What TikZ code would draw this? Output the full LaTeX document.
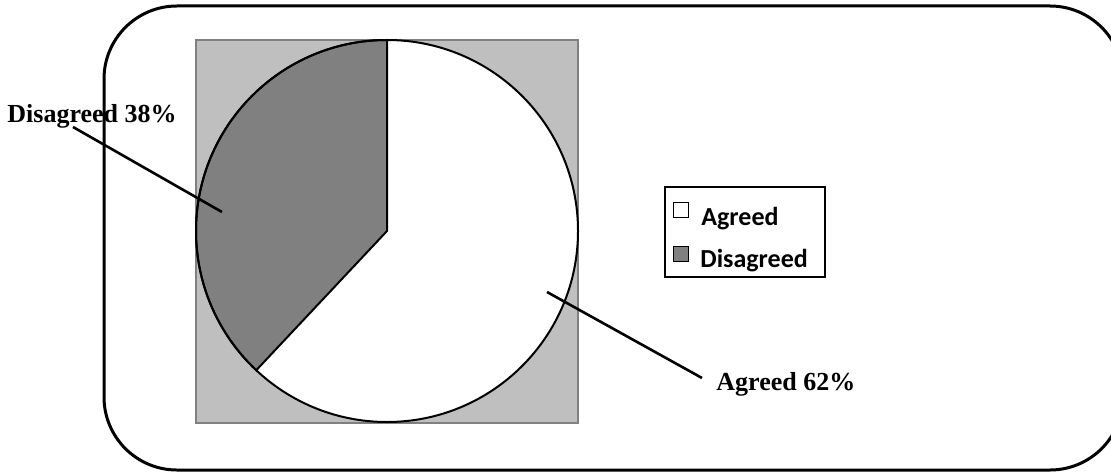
\documentclass[tikz,border=0pt]{standalone}
\usepackage{fontspec}
\setmainfont{Liberation Serif}
\newfontfamily\legfont{Carlito}
\begin{document}
\begin{tikzpicture}[x=0.5pt,y=0.5pt,
  framebox/.style={line width=1.5pt,rounded corners=36.5pt},
  plotarea/.style={fill=black!25,draw=black!50,line width=0.8pt},
  pieline/.style={draw=black,line width=1pt},
  leader/.style={line width=1.3pt},
  pielabel/.style={font=\fontsize{13}{15}\selectfont\bfseries,inner sep=0pt,anchor=base west},
  legtext/.style={font=\legfont\fontsize{13}{15}\selectfont\bfseries,inner sep=0pt,anchor=base west},
  legkey/.style={draw=black,line width=0.6pt,minimum size=7.5pt,inner sep=0pt}]
\useasboundingbox (0,0) rectangle (1111,472);
\clip (0,0) rectangle (1111,472);
% outer rounded frame (cut off at the right)
\draw[framebox] (104,2) rectangle (1123,466);
% plot area
\draw[plotarea] (196,49) rectangle (578,432);
% pie
\coordinate (c) at (387,241);
\fill[white] (c) circle[radius=95.5pt];
\filldraw[pieline,fill=black!50] (c) -- ++(90:95.5pt) arc[start angle=90,end angle=226.8,radius=95.5pt] -- cycle;
\draw[pieline] (c) circle[radius=95.5pt];
% labels
\node[pielabel] (dlab) at (7,350) {Disagreed 38\%};
\node[pielabel] (alab) at (716,82) {Agreed 62\%};
\coordinate (dstart) at (73,345);
\coordinate (dend) at (222,260);
\coordinate (astart) at (547,180);
\coordinate (aend) at (702,94);
\draw[leader] (dstart) -- (dend);
\draw[leader] (astart) -- (aend);
% legend
\draw[line width=0.8pt] (665,195) rectangle (825,285);
\node[legkey,fill=white] (k1) at (681,262) {};
\node[legkey,fill=black!50] (k2) at (681,218) {};
\node[legtext] (t1) at (701,247) {Agreed};
\node[legtext] (t2) at (700,205) {Disagreed};
\end{tikzpicture}
\end{document}
